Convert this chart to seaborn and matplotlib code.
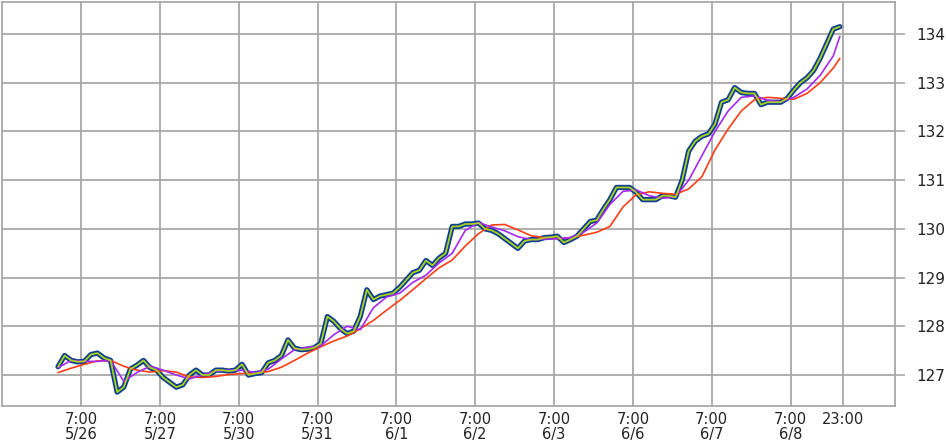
import matplotlib
matplotlib.use("Agg")
import matplotlib.pyplot as plt
import seaborn as sns
import pandas as pd

# hours since 0:00 5/26 (trading hours only, weekends skipped), 2-hour steps
price_hours = list(range(0, 240, 2))
close = [127.17, 127.40, 127.30, 127.27, 127.28, 127.42, 127.45, 127.35, 127.30, 126.65,
         126.75, 127.12, 127.20, 127.30, 127.15, 127.10, 126.95, 126.85, 126.75, 126.80,
         127.00, 127.10, 127.00, 127.00, 127.10, 127.10, 127.08, 127.10, 127.22, 127.00,
         127.03, 127.05, 127.25, 127.30, 127.40, 127.72, 127.55, 127.52, 127.53, 127.56,
         127.65, 128.20, 128.10, 127.95, 127.85, 127.90, 128.20, 128.75, 128.55, 128.62,
         128.65, 128.68, 128.80, 128.95, 129.10, 129.15, 129.35, 129.25, 129.40, 129.50,
         130.05, 130.05, 130.10, 130.10, 130.12, 130.00, 129.97, 129.90, 129.80, 129.70,
         129.60, 129.75, 129.78, 129.78, 129.82, 129.83, 129.85, 129.72, 129.78, 129.85,
         130.00, 130.15, 130.18, 130.40, 130.60, 130.85, 130.85, 130.85, 130.75, 130.60,
         130.60, 130.60, 130.68, 130.68, 130.65, 131.00, 131.60, 131.80, 131.90, 131.95,
         132.15, 132.60, 132.65, 132.90, 132.80, 132.78, 132.78, 132.55, 132.60, 132.60,
         132.60, 132.68, 132.85, 133.00, 133.10, 133.25, 133.50, 133.80, 134.10, 134.15]

# moving averages, 4-hour steps
ma_hours = list(range(0, 237, 4)) + [238]
ma_short = [127.15, 127.30, 127.28, 127.28, 127.30, 126.87, 127.05, 127.18, 127.10, 127.00,
            126.92, 127.00, 127.08, 127.10, 127.10, 127.05, 127.12, 127.33, 127.52, 127.57,
            127.60, 127.83, 128.00, 127.93, 128.38, 128.60, 128.68, 128.90, 129.05, 129.30,
            129.50, 129.97, 130.13, 130.04, 129.96, 129.84, 129.78, 129.79, 129.80, 129.82,
            129.93, 130.12, 130.50, 130.77, 130.80, 130.68, 130.63, 130.66, 131.00, 131.50,
            132.00, 132.42, 132.70, 132.73, 132.64, 132.61, 132.70, 132.87, 133.15, 133.55,
            133.95]
ma_long = [127.05, 127.14, 127.22, 127.29, 127.30, 127.18, 127.10, 127.06, 127.09, 127.06,
           126.96, 126.95, 126.97, 127.01, 127.03, 127.04, 127.07, 127.16, 127.30, 127.45,
           127.58, 127.70, 127.80, 127.95, 128.12, 128.33, 128.53, 128.75, 128.98, 129.20,
           129.36, 129.65, 129.90, 130.08, 130.09, 129.98, 129.86, 129.82, 129.80, 129.82,
           129.87, 129.93, 130.05, 130.45, 130.70, 130.76, 130.73, 130.71, 130.82, 131.07,
           131.62, 132.05, 132.42, 132.65, 132.70, 132.68, 132.66, 132.78, 133.00, 133.30,
           133.50]

tick_hours = [7, 31, 55, 79, 103, 127, 151, 175, 199, 223, 239]
tick_labels = ["7:00\n5/26", "7:00\n5/27", "7:00\n5/30", "7:00\n5/31", "7:00\n6/1",
               "7:00\n6/2", "7:00\n6/3", "7:00\n6/6", "7:00\n6/7", "7:00\n6/8", "23:00"]
y_ticks = [127, 128, 129, 130, 131, 132, 133, 134]

sns.set_style("white")
plt.rcParams['font.family'] = ['DejaVu Sans']

fig = plt.figure(figsize=(9.46, 4.42), dpi=100)
ax = fig.add_axes([2 / 946, 36 / 442, 893 / 946, 404 / 442])

price = pd.DataFrame({"h": price_hours, "close": close})
ma = pd.DataFrame({"h": ma_hours, "short": ma_short, "long": ma_long})

# candle band (dark blue) with close line (yellow-green) on top
sns.lineplot(data=price, x="h", y="close", ax=ax, color="#0d3d93", lw=3.8, zorder=3)
sns.lineplot(data=ma, x="h", y="long", ax=ax, color="#ff3c14", lw=1.2, zorder=4)
sns.lineplot(data=ma, x="h", y="short", ax=ax, color="#a528f0", lw=1.2, zorder=5)
sns.lineplot(data=price, x="h", y="close", ax=ax, color="#a8d21e", lw=1.3, zorder=6)

ax.set_xlim(-17.06, 254.8)
ax.set_ylim(126.364, 134.657)
ax.set_xticks(tick_hours)
ax.set_xticklabels(tick_labels, fontsize=10.5, color="#222222", linespacing=1.05)
ax.set_yticks(y_ticks)
ax.set_yticklabels([str(v) for v in y_ticks], fontsize=11, color="#222222")
ax.yaxis.tick_right()
ax.tick_params(axis="y", length=7, width=1.2, color="#a8a8a8", pad=8)
ax.tick_params(axis="x", length=0, pad=4)
ax.grid(True, color="#a8a8a8", lw=1.3)
ax.set_axisbelow(True)
ax.set_xlabel("")
ax.set_ylabel("")
for side in ["left", "right", "top", "bottom"]:
    ax.spines[side].set_color("#a8a8a8")
    ax.spines[side].set_linewidth(1.3)

fig.savefig("out.png", dpi=100)
